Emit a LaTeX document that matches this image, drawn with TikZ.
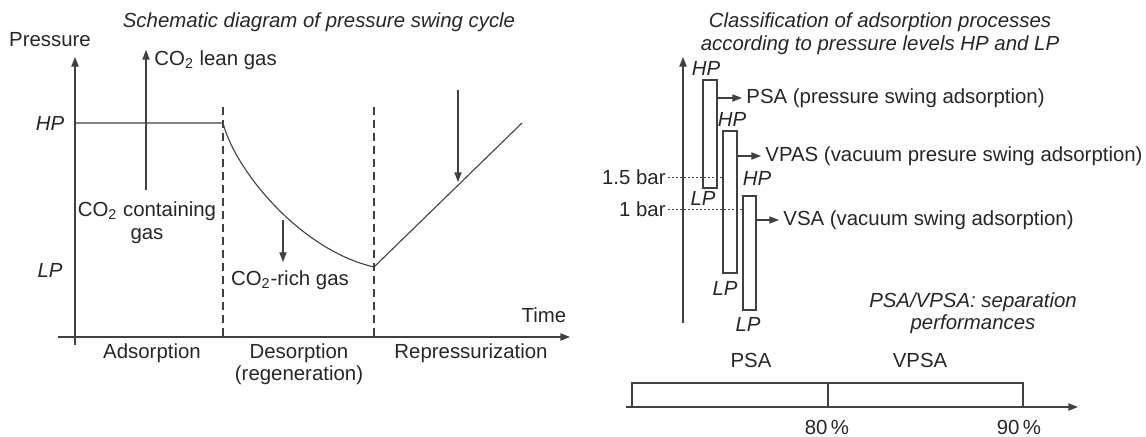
\documentclass[tikz,border=0pt]{standalone}
\usepackage{fontspec}
\setmainfont{Liberation Sans}
\usetikzlibrary{positioning, arrows.meta}

\begin{document}
\begin{tikzpicture}[
      x=0.5pt, y=-0.5pt,
      font=\fontsize{10.2}{11.5}\selectfont,
      txt/.style={text=black!85, inner sep=1pt, align=center},
      lbl/.style={txt, font=\fontsize{10.2}{11.5}\selectfont\itshape},
      ln/.style={draw=black!75, line width=0.55pt},
      axis/.style={draw=black!75, line width=0.7pt, -{Triangle[length=4.8pt, width=3.6pt]}},
      arr/.style={ln, -{Triangle[length=4.8pt, width=3.6pt]}},
      sep/.style={ln, dash pattern=on 4pt off 2.5pt},
      guide/.style={draw=black!75, line width=0.45pt, dash pattern=on 1pt off 1pt},
      bar/.style={draw=black!75, line width=0.55pt, inner sep=0pt, minimum width=7pt}
    ]
    \useasboundingbox (0,0) rectangle (1146,437);

    % pressure swing cycle
    \node[lbl] (cycle) at (319,22) {Schematic diagram of pressure swing cycle};
    \node[txt] (pres) at (50,40) {Pressure};
    \coordinate (ybot) at (75,345);
    \coordinate (ytop) at (75,57);
    \coordinate (xl) at (58,337);
    \coordinate (xr) at (570,337);
    \draw[axis] (ybot) -- (ytop);
    \draw[axis] (xl) -- (xr);
    \node[txt] (time) at (544,315) {Time};
    \node[lbl] (hp) at (50,123) {HP};
    \node[lbl] (lp) at (50,270) {LP};

    \coordinate (c0) at (75,123);
    \coordinate (c1) at (223,123);
    \coordinate (c2) at (374,267);
    \coordinate (c3) at (522,123);
    \draw[ln] (c0) -- (c1) .. controls (235,170) and (300,250) .. (c2) -- (c3);
    \draw[sep] (223,107) -- (223,337);
    \draw[sep] (374,107) -- (374,337);

    \coordinate (feed) at (146,190);
    \coordinate (lean) at (146,50);
    \draw[arr] (feed) -- (lean);
    \node[txt, anchor=west] (leantxt) at (152,60) {CO\textsubscript{2} lean gas};
    \node[txt] (feedtxt) at (147,223) {CO\textsubscript{2} containing\\gas};
    \coordinate (rich0) at (283,220);
    \coordinate (rich1) at (283,262);
    \draw[arr] (rich0) -- (rich1);
    \node[txt] (richtxt) at (290,280) {CO\textsubscript{2}-rich gas};
    \coordinate (rep0) at (458,90);
    \coordinate (rep1) at (458,182);
    \draw[arr] (rep0) -- (rep1);

    \node[txt] (ads) at (152,353) {Adsorption};
    \node[txt, font=\fontsize{10.2}{11}\selectfont] (des) at (299,364) {Desorption\\(regeneration)};
    \node[txt] (rep) at (471,353) {Repressurization};

    % classification by pressure levels
    \node[lbl, font=\fontsize{10.2}{11.3}\selectfont\itshape] (classif) at (880,34) {Classification of adsorption processes\\according to pressure levels HP and LP};
    \coordinate (rbot) at (683,323);
    \coordinate (rtop) at (683,57);
    \draw[axis] (rbot) -- (rtop);

    \node[bar, minimum height=54pt] (psa) at (710,134) {};
    \node[bar, minimum height=71pt] (vpas) at (730,202) {};
    \node[bar, minimum height=57pt, minimum width=6.5pt] (vsa) at (749.5,253) {};
    \node[lbl] (psahp) at (706,68) {HP};
    \node[lbl] (psalp) at (703,198) {LP};
    \node[lbl] (vpashp) at (732,119) {HP};
    \node[lbl] (vpaslp) at (725,288) {LP};
    \node[lbl] (vsahp) at (757,178) {HP};
    \node[lbl] (vsalp) at (748,324) {LP};

    \node[txt, anchor=west, inner sep=2pt] (psatxt) at (742,98) {PSA (pressure swing adsorption)};
    \node[txt, anchor=west, inner sep=2pt] (vpastxt) at (761,156) {VPAS (vacuum presure swing adsorption)};
    \node[txt, anchor=west, inner sep=2pt] (vsatxt) at (779,220) {VSA (vacuum swing adsorption)};
    \draw[arr] (psa.east |- psatxt.west) -- (psatxt.west);
    \draw[arr] (vpas.east |- vpastxt.west) -- (vpastxt.west);
    \draw[arr] (vsa.east |- vsatxt.west) -- (vsatxt.west);

    \node[txt, anchor=east] (bar15) at (668,177) {1.5 bar};
    \node[txt, anchor=east] (bar1) at (668,209) {1 bar};
    \draw[guide] (bar15.east) -- (vpas.west |- bar15.east);
    \draw[guide] (bar1.east) -- (vsa.west |- bar1.east);

    % separation performances
    \node[lbl, font=\fontsize{10.2}{11}\selectfont\itshape] (perf) at (973,313) {PSA/VPSA: separation\\performances};
    \node[txt] (psalbl) at (751,360) {PSA};
    \node[txt] (vpsalbl) at (920,360) {VPSA};
    \draw[ln] (632,383) rectangle (828,407);
    \draw[ln] (828,383) rectangle (1023,407);
    \coordinate (pl) at (626,407);
    \coordinate (pr) at (1078,407);
    \draw[axis] (pl) -- (pr);
    \node[txt] (p80) at (827,427) {80\,\%};
    \node[txt] (p90) at (1019,427) {90\,\%};
  \end{tikzpicture}
\end{document}
